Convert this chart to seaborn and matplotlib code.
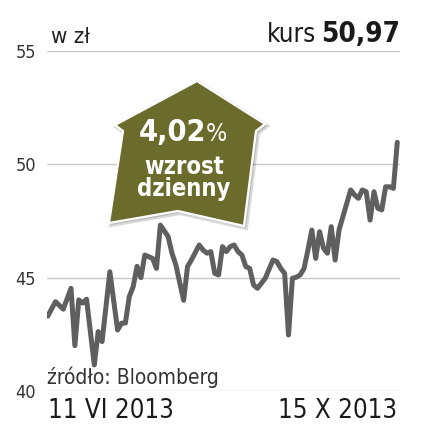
import numpy as np
import pandas as pd
import matplotlib
matplotlib.use("Agg")
import matplotlib.pyplot as plt
from matplotlib.patches import Polygon
import seaborn as sns

### DATA ###

# trading day index (0 = 11 VI 2013, 90 = 15 X 2013) and closing price in zl
day = [0, 2, 4, 6, 7, 8, 9, 10, 12, 13, 14, 16, 18, 19, 20, 21, 22, 23, 24, 25,
       27, 28, 29, 31, 32, 33, 35, 36, 37, 39, 40, 41, 42, 43, 44, 45, 46, 47,
       48, 49, 50, 51, 52, 53, 54, 55, 56, 58, 59, 60, 61, 62, 63, 64, 65, 66,
       67, 68, 69, 70, 71, 72, 73, 74, 75, 78, 79, 80, 81, 82, 83, 84, 85, 86,
       87, 88, 89, 90]
price = [43.30, 43.94, 43.61, 44.53, 42.00, 44.02, 43.88, 44.05, 41.15, 42.62,
         42.18, 45.26, 42.69, 42.99, 43.00, 44.16, 44.60, 45.50, 45.00, 46.00,
         45.85, 45.41, 47.32, 46.81, 46.08, 45.56, 44.00, 45.49, 45.78, 46.44,
         46.22, 46.08, 46.15, 45.19, 45.12, 46.37, 46.15, 46.37, 46.44, 46.15,
         46.00, 45.49, 45.41, 44.68, 44.53, 44.75, 44.97, 45.78, 45.71, 45.41,
         45.19, 42.47, 44.97, 45.02, 45.12, 45.41, 46.22, 47.10, 45.85, 47.03,
         46.30, 46.08, 47.25, 45.78, 47.10, 48.87, 48.65, 48.50, 48.87, 48.79,
         47.54, 48.79, 48.06, 47.99, 49.01, 49.01, 48.94, 50.97]

y_ticks = [40, 45, 50, 55]
x_ticks = [0, 90]
x_labels = ["11 VI 2013", "15 X 2013"]

last_price = "50,97"
daily_change = "4,02"

df = pd.DataFrame({"day": day, "price": price})

### STYLE ###

sns.set_theme(style="white")
plt.rcParams["font.family"] = ["DejaVu Sans"]
plt.rcParams["font.stretch"] = "condensed"

W, H = 426, 434
fig = plt.figure(figsize=(W / 100, H / 100), dpi=100)


def fx(x):
    return x / W


def fy(y):
    return 1 - y / H


ax = fig.add_axes([fx(47), fy(391), fx(400) - fx(47), fy(51) - fy(391)])

for v in y_ticks:
    ax.axhline(v, color="#c8c8c8", lw=1, zorder=1)

sns.lineplot(data=df, x="day", y="price", ax=ax, color="#5f5f5f",
             lw=3.6, zorder=3)

ax.set_ylim(40, 55)
ax.set_xlim(-0.18, 90.7)
ax.set_yticks(y_ticks)
ax.set_yticklabels([str(v) for v in y_ticks], fontsize=13, color="#333333")
ax.set_xticks(x_ticks)
ax.set_xticklabels(x_labels, fontsize=18.5, color="#1a1a1a")
ax.get_xticklabels()[0].set_ha("left")
ax.get_xticklabels()[1].set_ha("right")
ax.tick_params(axis="y", length=0, pad=8)
ax.tick_params(axis="x", length=0, pad=5)
ax.set_xlabel("")
ax.set_ylabel("")
sns.despine(ax=ax, left=True, bottom=True)

### TEXTS ###

fig.text(fx(51), fy(43), "w zł", fontsize=16, color="#222222", va="baseline")
fig.text(fx(400), fy(42), last_price, fontsize=20, fontweight="bold",
         color="#1a1a1a", ha="right", va="baseline")
fig.text(fx(316), fy(42), "kurs", fontsize=18.5, color="#1a1a1a",
         ha="right", va="baseline")
fig.text(fx(47), fy(384), "źródło: Bloomberg", fontsize=15,
         color="#333333", va="baseline")

### BADGE ###

badge = [(197, 81), (265, 124), (256, 131), (244, 226), (178, 211),
         (109, 223), (123, 131), (115, 125)]
shadow = Polygon([(fx(x + 2), fy(y + 2)) for x, y in badge], closed=True,
                 transform=fig.transFigure, facecolor="#000000", alpha=0.15,
                 edgecolor="#000000", lw=3, zorder=5)
fig.patches.append(shadow)
house = Polygon([(fx(x), fy(y)) for x, y in badge], closed=True,
                transform=fig.transFigure, facecolor="#6b6b2b",
                edgecolor="white", lw=1.6, zorder=6)
fig.patches.append(house)

fig.text(fx(172), fy(141), daily_change, fontsize=22, fontweight="bold",
         color="white", ha="center", va="baseline", zorder=7)
fig.text(fx(206), fy(141), "%", fontsize=18, color="white",
         ha="left", va="baseline", zorder=7)
fig.text(fx(184), fy(196), "wzrost\ndzienny", fontsize=17, fontweight="bold",
         color="white", ha="center", va="baseline", linespacing=0.92,
         multialignment="center", zorder=7)

fig.savefig("out.png", dpi=100)
